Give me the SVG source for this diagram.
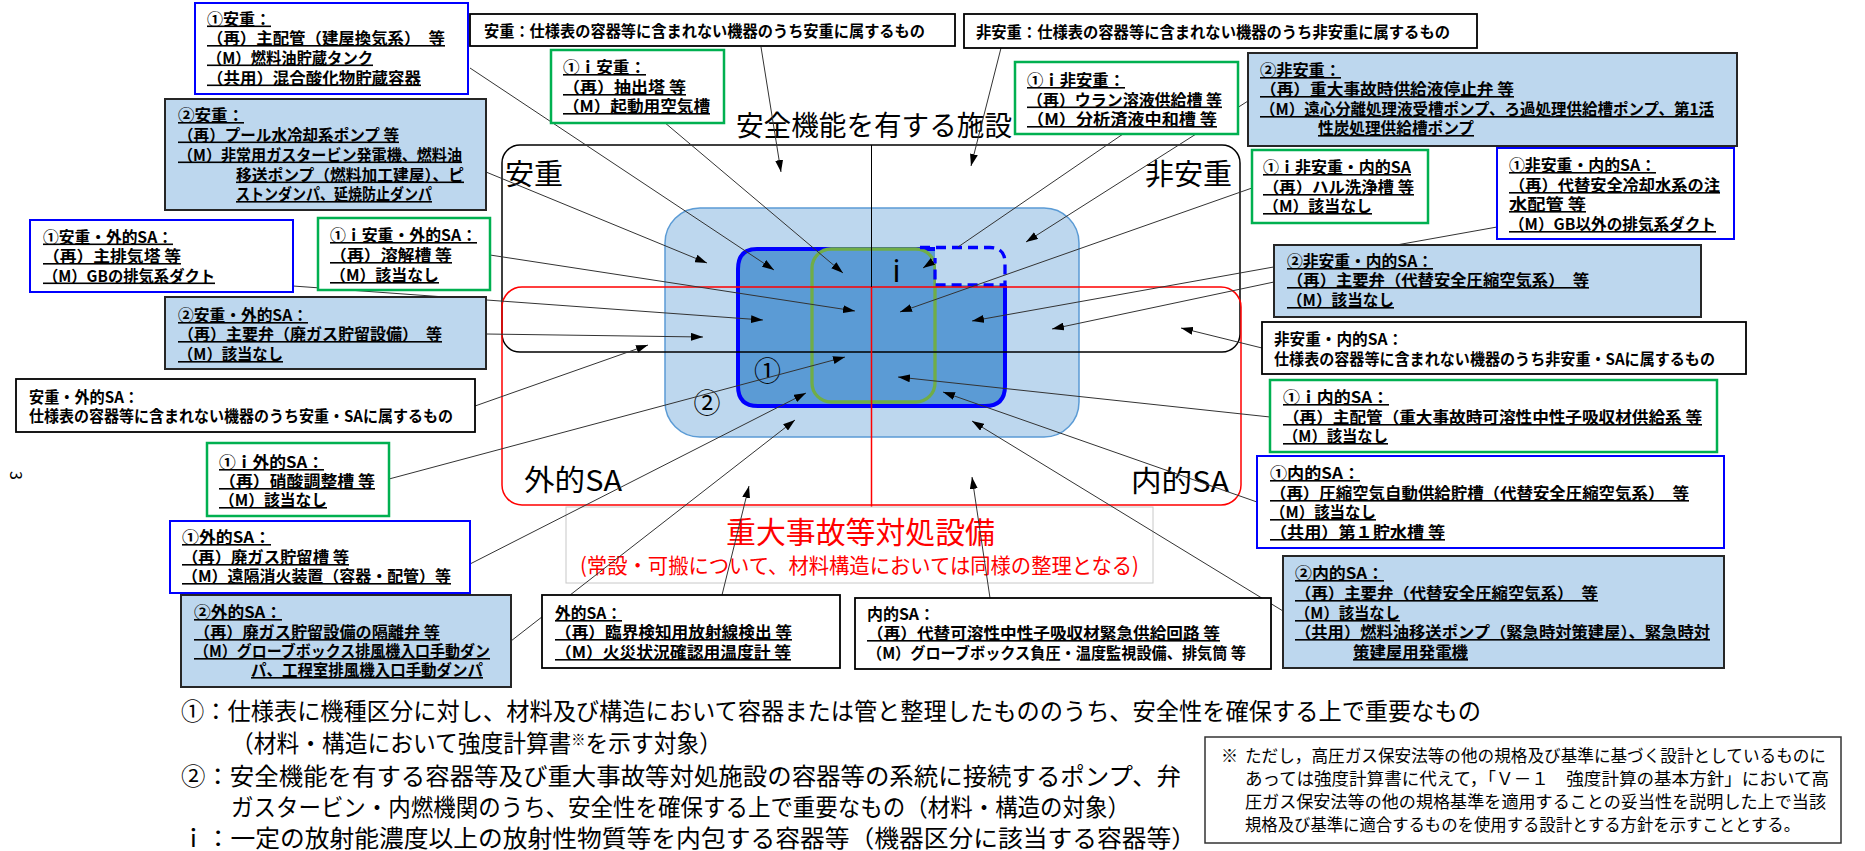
<svg xmlns="http://www.w3.org/2000/svg" width="1865" height="851" viewBox="0 0 1865 851">
<style>
.t{font-family:"Noto Sans CJK JP","Noto Sans CJK SC",sans-serif;font-weight:700;font-size:16px;fill:#000}
.u{text-decoration:underline}
.r{font-family:"Noto Sans CJK JP","Noto Sans CJK SC",sans-serif;font-weight:400;fill:#000}
.bb{fill:#fff;stroke:#0000FF;stroke-width:2}
.gb{fill:#fff;stroke:#00B050;stroke-width:2.5}
.lb{fill:#BDD7EE;stroke:#262626;stroke-width:2}
.kb{fill:#fff;stroke:#000;stroke-width:1.8}
.cn line{stroke:#333;stroke-width:1;marker-end:url(#ah)}
</style>
<defs>
<marker id="ah" viewBox="0 0 12 8" refX="12" refY="4" markerWidth="12" markerHeight="8" markerUnits="userSpaceOnUse" orient="auto"><path d="M0,0 L12,4 L0,8 z" fill="#000"/></marker>
</defs>
<rect width="1865" height="851" fill="#fff"/>

<g id="center-diagram">
<rect x="665" y="208" width="414" height="229" rx="35" fill="#BDD7EE" stroke="#5B9BD5" stroke-width="1.5"/>
<path d="M757,249 H935 V285 H1005 V386 Q1005,406 985,406 H758 Q738,406 738,386 V269 Q738,249 757,249 Z" fill="#5B9BD5"/>
<path d="M935,249 H757 Q738,249 738,269 V386 Q738,406 758,406 H985 Q1005,406 1005,386 V285" fill="none" stroke="#0000FF" stroke-width="4"/>
<rect x="812" y="249" width="123" height="153" rx="19" fill="#5B9BD5" stroke="#70AD47" stroke-width="3.3"/>
<path d="M936,249 H990 Q1005,249 1005,264 V285 H936 Z" fill="#BDD7EE"/>
<path d="M920,247.5 H990 Q1005,247.5 1005,263 V285 H935 V258" fill="none" stroke="#0000FF" stroke-width="3.3" stroke-dasharray="10,6"/>
<rect x="502" y="145" width="738" height="207" rx="18" fill="none" stroke="#000" stroke-width="1.5"/>
<rect x="502" y="287" width="739" height="218" rx="20" fill="none" stroke="#FF0000" stroke-width="1.5"/>
<line x1="871.5" y1="145" x2="871.5" y2="287" stroke="#000" stroke-width="1"/>
<line x1="871.5" y1="287" x2="871.5" y2="507" stroke="#FF0000" stroke-width="1.5"/>
<rect x="566" y="507" width="587" height="76" fill="none" stroke="#C8C8C8" stroke-width="1"/>
<text class="r" x="874" y="136" font-size="28" text-anchor="middle" textLength="276" lengthAdjust="spacingAndGlyphs">安全機能を有する施設</text>
<text class="r" x="505" y="185" font-size="29">安重</text>
<text class="r" x="1232" y="185" font-size="29" text-anchor="end">非安重</text>
<text class="r" x="524" y="491" font-size="29" textLength="98" lengthAdjust="spacingAndGlyphs">外的SA</text>
<text class="r" x="1131" y="492" font-size="29" textLength="98" lengthAdjust="spacingAndGlyphs">内的SA</text>
<text x="896.5" y="282" font-family="Noto Sans, DejaVu Sans, sans-serif" font-size="31" text-anchor="middle" fill="#000">i</text>
<text class="r" x="767.5" y="380.5" font-size="27" text-anchor="middle">①</text>
<text class="r" x="707" y="412.5" font-size="27" text-anchor="middle">②</text>
<text class="r" x="860.5" y="543" font-size="30" text-anchor="middle" style="fill:#FF0000" textLength="269" lengthAdjust="spacingAndGlyphs">重大事故等対処設備</text>
<text class="r" x="859.5" y="573" font-size="21" text-anchor="middle" style="fill:#FF0000" textLength="559" lengthAdjust="spacingAndGlyphs">(常設・可搬について、材料構造においては同様の整理となる)</text>
</g>

<g id="connectors" class="cn">
<line x1="470" y1="68" x2="774" y2="270"/>
<line x1="486" y1="172" x2="707" y2="263"/>
<line x1="664" y1="122" x2="843" y2="273"/>
<line x1="761" y1="47" x2="781" y2="172"/>
<line x1="1001" y1="48" x2="971" y2="166"/>
<line x1="1123" y1="134" x2="958" y2="247" style="marker-end:none"/>
<line x1="933" y1="261.4" x2="923" y2="268"/>
<line x1="1248" y1="101" x2="1026" y2="242"/>
<line x1="1252" y1="188" x2="900" y2="312"/>
<line x1="1497" y1="227" x2="972" y2="321"/>
<line x1="1274" y1="282" x2="1052" y2="329"/>
<line x1="1262" y1="348" x2="1181" y2="328"/>
<line x1="1270" y1="417" x2="898" y2="377"/>
<line x1="1257" y1="502" x2="943" y2="392"/>
<line x1="1283" y1="611" x2="972" y2="421"/>
<line x1="990" y1="598" x2="972" y2="477"/>
<line x1="722" y1="595" x2="749" y2="486"/>
<line x1="511" y1="641" x2="795" y2="420"/>
<line x1="470" y1="564" x2="806" y2="393"/>
<line x1="389" y1="479" x2="845" y2="357"/>
<line x1="475" y1="406" x2="648" y2="345"/>
<line x1="486" y1="334" x2="703" y2="337"/>
<line x1="293" y1="286" x2="763" y2="320"/>
<line x1="490" y1="255" x2="855" y2="311"/>
</g>

<g id="b-1-anju">
<rect class="bb" x="195" y="3" width="273" height="91"/>
<text class="t u" x="207" y="24.5" textLength="64" lengthAdjust="spacingAndGlyphs">①安重：</text>
<text class="t u" x="207" y="44" textLength="238" lengthAdjust="spacingAndGlyphs">（再）主配管（建屋換気系）　等</text>
<text class="t u" x="207" y="63.5" textLength="166" lengthAdjust="spacingAndGlyphs">（M）燃料油貯蔵タンク</text>
<text class="t u" x="207" y="83.5" textLength="214" lengthAdjust="spacingAndGlyphs">（共用）混合酸化物貯蔵容器</text>
</g>
<g id="b-2-anju">
<rect class="lb" x="165" y="99" width="321" height="111"/>
<text class="t u" x="178" y="121" textLength="66" lengthAdjust="spacingAndGlyphs">②安重：</text>
<text class="t u" x="178" y="140.5" textLength="221" lengthAdjust="spacingAndGlyphs">（再）プール水冷却系ポンプ 等</text>
<text class="t u" x="178" y="160.5" textLength="284" lengthAdjust="spacingAndGlyphs">（M）非常用ガスタービン発電機、燃料油</text>
<text class="t u" x="236" y="180.5" textLength="228" lengthAdjust="spacingAndGlyphs">移送ポンプ（燃料加工建屋）、ピ</text>
<text class="t u" x="236" y="200" textLength="196" lengthAdjust="spacingAndGlyphs">ストンダンパ、延焼防止ダンパ</text>
</g>
<g id="b-1-anju-gaiteki">
<rect class="bb" x="30" y="220" width="263" height="72"/>
<text class="t u" x="43" y="242.5" textLength="130" lengthAdjust="spacingAndGlyphs">①安重・外的SA：</text>
<text class="t u" x="43" y="262" textLength="138" lengthAdjust="spacingAndGlyphs">（再）主排気塔 等</text>
<text class="t u" x="43" y="281.5" textLength="172" lengthAdjust="spacingAndGlyphs">（M）GBの排気系ダクト</text>
</g>
<g id="b-1i-anju-gaiteki">
<rect class="gb" x="318" y="218" width="172" height="72"/>
<text class="t u" x="330" y="241" textLength="147" lengthAdjust="spacingAndGlyphs">①ｉ安重・外的SA：</text>
<text class="t u" x="330" y="261" textLength="122" lengthAdjust="spacingAndGlyphs">（再）溶解槽 等</text>
<text class="t u" x="330" y="281" textLength="109" lengthAdjust="spacingAndGlyphs">（M）該当なし</text>
</g>
<g id="b-2-anju-gaiteki">
<rect class="lb" x="165" y="297" width="321" height="72"/>
<text class="t u" x="178" y="321" textLength="130" lengthAdjust="spacingAndGlyphs">②安重・外的SA：</text>
<text class="t u" x="178" y="340" textLength="264" lengthAdjust="spacingAndGlyphs">（再）主要弁（廃ガス貯留設備）　等</text>
<text class="t u" x="178" y="360" textLength="105" lengthAdjust="spacingAndGlyphs">（M）該当なし</text>
</g>
<g id="b-anju-gaiteki">
<rect class="kb" x="16" y="379" width="459" height="53"/>
<text class="t" x="29" y="403" textLength="110" lengthAdjust="spacingAndGlyphs">安重・外的SA：</text>
<text class="t" x="29" y="422" textLength="424" lengthAdjust="spacingAndGlyphs">仕様表の容器等に含まれない機器のうち安重・SAに属するもの</text>
</g>
<g id="b-1i-gaiteki">
<rect class="gb" x="207" y="443" width="182" height="73"/>
<text class="t u" x="219" y="468" textLength="105" lengthAdjust="spacingAndGlyphs">①ｉ外的SA：</text>
<text class="t u" x="219" y="487" textLength="156" lengthAdjust="spacingAndGlyphs">（再）硝酸調整槽 等</text>
<text class="t u" x="219" y="506" textLength="108" lengthAdjust="spacingAndGlyphs">（M）該当なし</text>
</g>
<g id="b-1-gaiteki">
<rect class="bb" x="170" y="521" width="300" height="72"/>
<text class="t u" x="182" y="543" textLength="89" lengthAdjust="spacingAndGlyphs">①外的SA：</text>
<text class="t u" x="182" y="563" textLength="167" lengthAdjust="spacingAndGlyphs">（再）廃ガス貯留槽 等</text>
<text class="t u" x="182" y="582" textLength="269" lengthAdjust="spacingAndGlyphs">（M）遠隔消火装置（容器・配管）等</text>
</g>
<g id="b-2-gaiteki">
<rect class="lb" x="181" y="595" width="330" height="92"/>
<text class="t u" x="194" y="618" textLength="88" lengthAdjust="spacingAndGlyphs">②外的SA：</text>
<text class="t u" x="194" y="638" textLength="246" lengthAdjust="spacingAndGlyphs">（再）廃ガス貯留設備の隔離弁 等</text>
<text class="t u" x="194" y="657" font-size="15.5" textLength="296" lengthAdjust="spacingAndGlyphs">（M）グローブボックス排風機入口手動ダン</text>
<text class="t u" x="251" y="676" textLength="232" lengthAdjust="spacingAndGlyphs">パ、工程室排風機入口手動ダンパ</text>
</g>
<g id="b-anju-note">
<rect class="kb" x="470" y="14" width="485" height="32"/>
<text class="t" x="484" y="37" textLength="441" lengthAdjust="spacingAndGlyphs">安重：仕様表の容器等に含まれない機器のうち安重に属するもの</text>
</g>
<g id="b-1i-anju">
<rect class="gb" x="551" y="50" width="173" height="73"/>
<text class="t u" x="563" y="73" textLength="83" lengthAdjust="spacingAndGlyphs">①ｉ安重：</text>
<text class="t u" x="563" y="93" textLength="123" lengthAdjust="spacingAndGlyphs">（再）抽出塔 等</text>
<text class="t u" x="563" y="112" textLength="147" lengthAdjust="spacingAndGlyphs">（M）起動用空気槽</text>
</g>
<g id="b-hianju-note">
<rect class="kb" x="964" y="14" width="513" height="34"/>
<text class="t" x="976" y="38" textLength="474" lengthAdjust="spacingAndGlyphs">非安重：仕様表の容器等に含まれない機器のうち非安重に属するもの</text>
</g>
<g id="b-1i-hianju">
<rect class="gb" x="1015" y="62" width="223" height="72"/>
<text class="t u" x="1027" y="86" textLength="98" lengthAdjust="spacingAndGlyphs">①ｉ非安重：</text>
<text class="t u" x="1027" y="105.5" textLength="195" lengthAdjust="spacingAndGlyphs">（再）ウラン溶液供給槽 等</text>
<text class="t u" x="1027" y="125" textLength="190" lengthAdjust="spacingAndGlyphs">（M）分析済液中和槽 等</text>
</g>
<g id="b-2-hianju">
<rect class="lb" x="1248" y="53" width="489" height="93"/>
<text class="t u" x="1260" y="76" textLength="81" lengthAdjust="spacingAndGlyphs">②非安重：</text>
<text class="t u" x="1260" y="95" textLength="254" lengthAdjust="spacingAndGlyphs">（再）重大事故時供給液停止弁 等</text>
<text class="t u" x="1260" y="115" font-size="15.2" textLength="454" lengthAdjust="spacingAndGlyphs">（M）遠心分離処理液受槽ポンプ、ろ過処理供給槽ポンプ、第1活</text>
<text class="t u" x="1318" y="134" textLength="156" lengthAdjust="spacingAndGlyphs">性炭処理供給槽ポンプ</text>
</g>
<g id="b-1i-hianju-naiteki">
<rect class="gb" x="1252" y="150" width="176" height="73"/>
<text class="t u" x="1263" y="173" textLength="148" lengthAdjust="spacingAndGlyphs">①ｉ非安重・内的SA</text>
<text class="t u" x="1263" y="193" textLength="151" lengthAdjust="spacingAndGlyphs">（再）ハル洗浄槽 等</text>
<text class="t u" x="1263" y="212" textLength="109" lengthAdjust="spacingAndGlyphs">（M）該当なし</text>
</g>
<g id="b-1-hianju-naiteki">
<rect class="bb" x="1497" y="148" width="237" height="91"/>
<text class="t u" x="1509" y="171" textLength="147" lengthAdjust="spacingAndGlyphs">①非安重・内的SA：</text>
<text class="t u" x="1509" y="191" textLength="211" lengthAdjust="spacingAndGlyphs">（再）代替安全冷却水系の注</text>
<text class="t u" x="1509" y="210" textLength="77" lengthAdjust="spacingAndGlyphs">水配管 等</text>
<text class="t u" x="1509" y="230" textLength="207" lengthAdjust="spacingAndGlyphs">（M）GB以外の排気系ダクト</text>
</g>
<g id="b-2-hianju-naiteki">
<rect class="lb" x="1274" y="245" width="427" height="72"/>
<text class="t u" x="1287" y="267" textLength="146" lengthAdjust="spacingAndGlyphs">②非安重・内的SA：</text>
<text class="t u" x="1287" y="286" textLength="302" lengthAdjust="spacingAndGlyphs">（再）主要弁（代替安全圧縮空気系）　等</text>
<text class="t u" x="1287" y="306" textLength="107" lengthAdjust="spacingAndGlyphs">（M）該当なし</text>
</g>
<g id="b-hianju-naiteki">
<rect class="kb" x="1262" y="322" width="484" height="52"/>
<text class="t" x="1274" y="345" textLength="129" lengthAdjust="spacingAndGlyphs">非安重・内的SA：</text>
<text class="t" x="1274" y="365" textLength="441" lengthAdjust="spacingAndGlyphs">仕様表の容器等に含まれない機器のうち非安重・SAに属するもの</text>
</g>
<g id="b-1i-naiteki">
<rect class="gb" x="1270" y="380" width="447" height="72"/>
<text class="t u" x="1283" y="403" textLength="106" lengthAdjust="spacingAndGlyphs">①ｉ内的SA：</text>
<text class="t u" x="1283" y="423" textLength="419" lengthAdjust="spacingAndGlyphs">（再）主配管（重大事故時可溶性中性子吸収材供給系 等</text>
<text class="t u" x="1283" y="442" textLength="105" lengthAdjust="spacingAndGlyphs">（M）該当なし</text>
</g>
<g id="b-1-naiteki">
<rect class="bb" x="1257" y="456" width="467" height="92"/>
<text class="t u" x="1270" y="479" textLength="90" lengthAdjust="spacingAndGlyphs">①内的SA：</text>
<text class="t u" x="1270" y="499" textLength="419" lengthAdjust="spacingAndGlyphs">（再）圧縮空気自動供給貯槽（代替安全圧縮空気系）　等</text>
<text class="t u" x="1270" y="518" textLength="106" lengthAdjust="spacingAndGlyphs">（M）該当なし</text>
<text class="t u" x="1270" y="538" textLength="175" lengthAdjust="spacingAndGlyphs">（共用）第１貯水槽 等</text>
</g>
<g id="b-2-naiteki">
<rect class="lb" x="1283" y="556" width="441" height="112"/>
<text class="t u" x="1295" y="579" textLength="89" lengthAdjust="spacingAndGlyphs">②内的SA：</text>
<text class="t u" x="1295" y="599" textLength="303" lengthAdjust="spacingAndGlyphs">（再）主要弁（代替安全圧縮空気系）　等</text>
<text class="t u" x="1295" y="619" textLength="105" lengthAdjust="spacingAndGlyphs">（M）該当なし</text>
<text class="t u" x="1295" y="638" textLength="415" lengthAdjust="spacingAndGlyphs">（共用）燃料油移送ポンプ（緊急時対策建屋）、緊急時対</text>
<text class="t u" x="1353" y="658" textLength="115" lengthAdjust="spacingAndGlyphs">策建屋用発電機</text>
</g>
<g id="b-gaiteki">
<rect class="kb" x="542" y="595" width="298" height="73"/>
<text class="t u" x="555" y="619" textLength="67" lengthAdjust="spacingAndGlyphs">外的SA：</text>
<text class="t u" x="555" y="638" textLength="237" lengthAdjust="spacingAndGlyphs">（再）臨界検知用放射線検出 等</text>
<text class="t u" x="555" y="658" textLength="236" lengthAdjust="spacingAndGlyphs">（M）火災状況確認用温度計 等</text>
</g>
<g id="b-naiteki">
<rect class="kb" x="855" y="598" width="416" height="71"/>
<text class="t" x="867" y="620" textLength="68" lengthAdjust="spacingAndGlyphs">内的SA：</text>
<text class="t u" x="867" y="639" textLength="353" lengthAdjust="spacingAndGlyphs">（再）代替可溶性中性子吸収材緊急供給回路 等</text>
<text class="t" x="867" y="659" font-size="15.5" textLength="379" lengthAdjust="spacingAndGlyphs">（M）グローブボックス負圧・温度監視設備、排気筒 等</text>
</g>

<g id="legend">
<text class="r" x="181" y="720" font-size="24" textLength="1300" lengthAdjust="spacingAndGlyphs">①：仕様表に機種区分に対し、材料及び構造において容器または管と整理したもののうち、安全性を確保する上で重要なもの</text>
<text class="r" x="231" y="752" font-size="24" textLength="491" lengthAdjust="spacingAndGlyphs">（材料・構造において強度計算書<tspan font-size="15" dy="-7">※</tspan><tspan dy="7">を示す対象）</tspan></text>
<text class="r" x="181" y="785" font-size="24" textLength="1000" lengthAdjust="spacingAndGlyphs">②：安全機能を有する容器等及び重大事故等対処施設の容器等の系統に接続するポンプ、弁</text>
<text class="r" x="231" y="816" font-size="24" textLength="899" lengthAdjust="spacingAndGlyphs">ガスタービン・内燃機関のうち、安全性を確保する上で重要なもの（材料・構造の対象）</text>
<text class="r" x="181" y="847" font-size="24" textLength="1015" lengthAdjust="spacingAndGlyphs">ｉ：一定の放射能濃度以上の放射性物質等を内包する容器等（機器区分に該当する容器等）</text>
</g>

<g id="footnote">
<rect x="1205" y="737" width="636" height="106" fill="#fff" stroke="#333" stroke-width="1.5"/>
<text class="r" x="1221" y="762" font-size="17">※</text>
<text class="r" x="1245" y="762" font-size="17" textLength="581" lengthAdjust="spacingAndGlyphs">ただし，高圧ガス保安法等の他の規格及び基準に基づく設計としているものに</text>
<text class="r" x="1245" y="785" font-size="17" textLength="584" lengthAdjust="spacingAndGlyphs">あっては強度計算書に代えて，「Ｖ－１　強度計算の基本方針」において高</text>
<text class="r" x="1245" y="808" font-size="17" textLength="581" lengthAdjust="spacingAndGlyphs">圧ガス保安法等の他の規格基準を適用することの妥当性を説明した上で当該</text>
<text class="r" x="1245" y="831" font-size="17" textLength="555" lengthAdjust="spacingAndGlyphs">規格及び基準に適合するものを使用する設計とする方針を示すこととする。</text>
</g>

<text class="r" x="0" y="0" font-size="16" transform="translate(9.5,471) rotate(90)">3</text>
</svg>
